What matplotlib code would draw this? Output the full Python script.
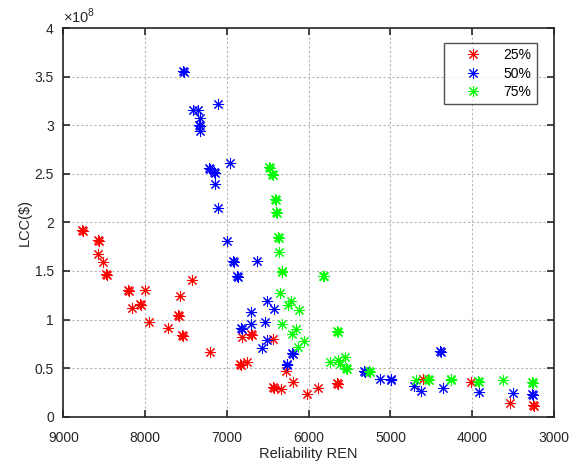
# -*- coding: utf-8 -*-
import matplotlib
matplotlib.use('Agg')
import matplotlib.pyplot as plt
from matplotlib.ticker import FuncFormatter

plt.rcParams['font.family'] = ['Liberation Sans', 'DejaVu Sans']
plt.rcParams['mathtext.fontset'] = 'custom'
plt.rcParams['mathtext.rm'] = 'Liberation Sans'

# reliability (REN) and life cycle cost (x 1e8 $)
# points that show up bold are two runs lying almost on top of each other
ren_25 = [8770, 8760, 8574, 8564, 8574, 8513, 8476, 8466, 8207, 8197, 8003, 8162, 8064, 8054,
          7950, 7432, 7575, 7603, 7593, 7718, 7547, 7537, 7208, 6820, 6707, 6697, 6434,
          6841, 6831, 6752, 6278, 6434, 6424, 6343, 6189, 6025, 5883, 5651, 5641,
          4606, 4015, 3535, 3257, 3247]
lcc_25 = [1.924, 1.914, 1.815, 1.805, 1.674, 1.592, 1.471, 1.461, 1.300, 1.290, 1.300, 1.121,
          1.156, 1.146, 0.971, 1.409, 1.239, 1.046, 1.036, 0.916, 0.841, 0.831, 0.669, 0.823,
          0.851, 0.841, 0.796, 0.542, 0.532, 0.560, 0.473, 0.309, 0.299, 0.282, 0.354,
          0.230, 0.295, 0.344, 0.334, 0.388, 0.354, 0.144, 0.117, 0.107]

ren_50 = [7535, 7525, 7106, 7412, 7351, 7330, 7339, 7329, 7330, 7217, 7207, 7157, 7147,
          7147, 6963, 7106, 6996, 6921, 6911, 6637, 6881, 6871, 6707, 6707, 6823, 6813,
          6507, 6421, 6535, 6507, 6568, 6203, 6193, 6272, 6262, 5322, 5312, 5129,
          4998, 4988, 4709, 4627, 4395, 4385, 4362, 3921, 3498, 3266, 3256]
lcc_50 = [3.562, 3.552, 3.222, 3.155, 3.155, 3.070, 3.001, 2.991, 2.939, 2.556, 2.546,
          2.517, 2.507, 2.392, 2.610, 2.144, 1.811, 1.604, 1.594, 1.604, 1.451, 1.441,
          1.082, 0.954, 0.909, 0.899, 1.190, 1.105, 0.976, 0.789, 0.712, 0.659, 0.649,
          0.544, 0.534, 0.475, 0.465, 0.388, 0.388, 0.378, 0.316, 0.264, 0.679, 0.669,
          0.298, 0.251, 0.241, 0.234, 0.224]

ren_75 = [6484, 6474, 6453, 6443, 6413, 6403, 6401, 6391, 6373, 6363, 6362, 6333, 6323,
          5828, 5818, 6346, 6223, 6250, 6125, 6333, 6150, 6205, 6058, 6135, 5651, 5641,
          5734, 5639, 5557, 5541, 5531, 5618, 5263, 5253, 4692, 4538, 4528, 4264, 4254,
          3930, 3920, 3628, 3266, 3256]
lcc_75 = [2.574, 2.564, 2.494, 2.484, 2.237, 2.227, 2.109, 2.099, 1.846, 1.836, 1.700,
          1.501, 1.491, 1.453, 1.443, 1.270, 1.195, 1.151, 1.095, 0.951, 0.906, 0.856,
          0.779, 0.719, 0.882, 0.872, 0.558, 0.583, 0.619, 0.501, 0.491, 0.542, 0.473,
          0.463, 0.378, 0.390, 0.380, 0.390, 0.380, 0.367, 0.357, 0.378, 0.359, 0.349]

series = [('25%', ren_25, lcc_25, (1, 0, 0)),
          ('50%', ren_50, lcc_50, (0, 0, 1)),
          ('75%', ren_75, lcc_75, (0, 1, 0))]

x_ticks = [9000, 8000, 7000, 6000, 5000, 4000, 3000]
y_ticks = [0, 0.5, 1, 1.5, 2, 2.5, 3, 3.5, 4]

asterisk = (8, 2, 0)

fig = plt.figure(figsize=(5.72, 4.67), dpi=100)
ax = fig.add_axes([0.111, 0.1077, 0.8575, 0.8323])

for name, xs, ys, col in series:
    ax.plot(xs, ys, linestyle='none', marker=asterisk, markersize=8,
            markeredgewidth=0.75, color=col, label=name)

ax.set_xlim(9000, 3000)
ax.set_ylim(0, 4)
ax.set_xticks(x_ticks)
ax.set_yticks(y_ticks)
ax.yaxis.set_major_formatter(FuncFormatter(lambda v, p: '%g' % v))

ax.grid(True, color='#b4b4b4', linestyle=(0, (2, 2)), linewidth=0.8)
ax.set_axisbelow(True)
ax.tick_params(direction='in', top=True, right=True, length=5, width=1.2,
               labelsize=10, colors='#262626')
ax.tick_params(axis='x', pad=10)
ax.tick_params(axis='y', pad=7)
for s in ax.spines.values():
    s.set_linewidth(1.2)
    s.set_color('#262626')

ax.set_xlabel('Reliability REN', fontsize=10.5, color='#262626', labelpad=2)
ax.set_ylabel(r'LCC(\$)', fontsize=10.5, color='#262626', labelpad=2)
ax.text(0.0, 1.006, r'$\times10^{8}$', transform=ax.transAxes, fontsize=10.5,
        color='#262626', va='bottom', ha='left')

leg = ax.legend(loc='upper right', bbox_to_anchor=(0.965, 0.962), fontsize=10,
                frameon=True, fancybox=False, edgecolor='#262626', borderpad=0.4,
                handlelength=3.4, handletextpad=0.5, labelspacing=0.3, borderaxespad=0)
leg.get_frame().set_linewidth(1.0)

fig.savefig('out.png', dpi=100)
